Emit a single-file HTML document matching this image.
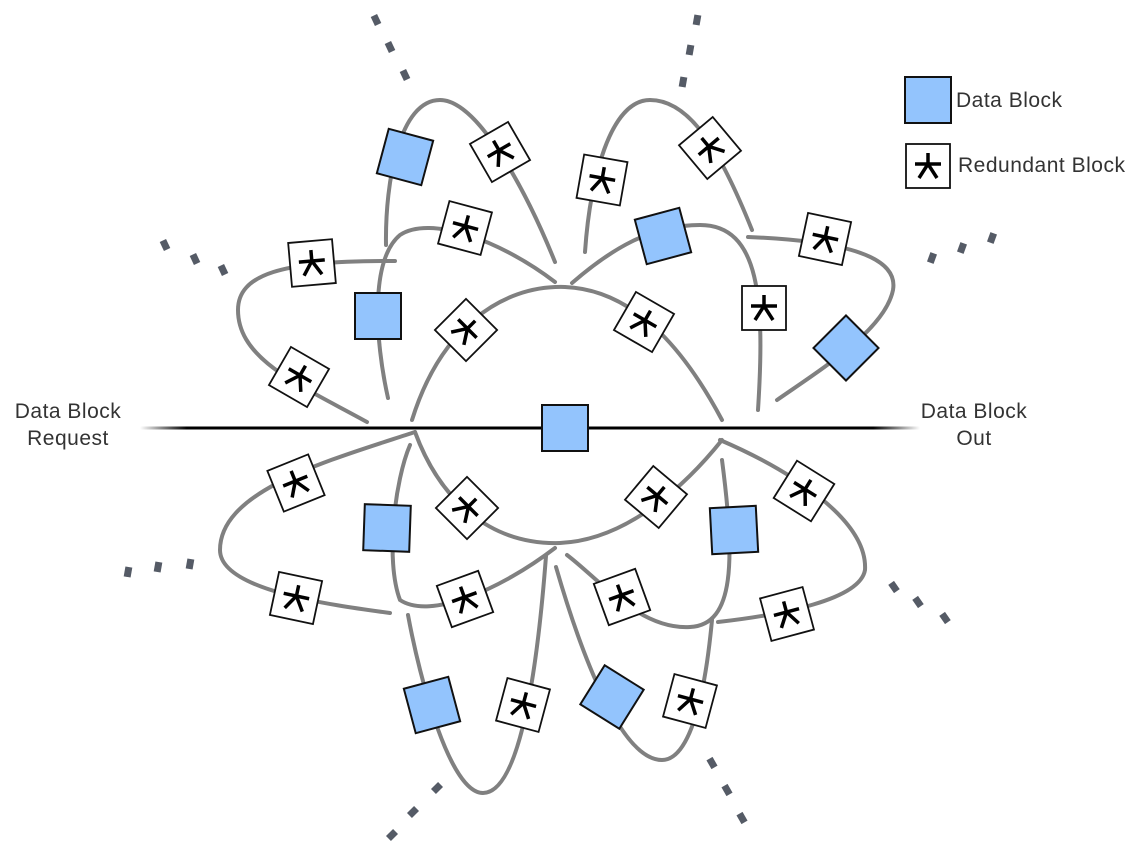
<!DOCTYPE html>
<html><head><meta charset="utf-8"><style>
html,body{margin:0;padding:0;background:#fff;width:1144px;height:864px;overflow:hidden}
svg{position:absolute;left:0;top:0}
.t{font-family:"Liberation Sans",sans-serif;font-size:21px;fill:#333;letter-spacing:0.5px}
</style></head><body>
<svg id="s" width="1144" height="864" viewBox="0 0 1144 864">
<defs><linearGradient id="lg" x1="0" x2="1"><stop offset="0" stop-color="#000" stop-opacity="0"/><stop offset="0.06" stop-color="#000"/><stop offset="0.94" stop-color="#000"/><stop offset="1" stop-color="#000" stop-opacity="0"/></linearGradient></defs>
<g fill="none" stroke="#808080" stroke-width="4" stroke-linecap="round">
<path d="M367,422 C300,385 238,360 238,310 C238,275 280,260 395,261"/>
<path d="M388,398 C375,340 370,260 400,235 C430,215 500,240 555,282"/>
<path d="M412,420 C440,330 500,285 565,287 C640,290 690,360 722,420"/>
<path d="M555,262 C530,200 480,100 440,100 C400,100 385,180 386,245"/>
<path d="M585,252 C590,180 610,100 650,100 C690,100 720,150 752,230"/>
<path d="M572,283 C610,250 650,225 700,225 C760,225 765,300 758,410"/>
<path d="M748,237 C820,240 900,250 893,290 C885,330 820,370 777,400"/>
<path d="M415,432 C330,460 220,490 220,550 C220,590 330,605 390,613"/>
<path d="M410,445 C395,480 385,560 400,600 C430,620 500,590 555,548"/>
<path d="M415,432 C440,500 490,545 560,543 C630,540 690,480 722,440"/>
<path d="M408,615 C420,680 450,793 483,793 C515,793 535,700 546,556"/>
<path d="M556,567 C580,650 620,760 662,760 C700,760 710,640 712,620"/>
<path d="M567,555 C600,580 640,630 690,627 C735,625 735,560 722,460"/>
<path d="M720,440 C790,470 868,520 865,570 C860,600 780,615 718,622"/>
</g>
<rect x="140" y="426.5" width="780" height="3" fill="url(#lg)"/>
<g id="b"></g>
<text class="t" x="68" y="418" text-anchor="middle">Data Block</text>
<text class="t" x="68" y="445" text-anchor="middle">Request</text>
<text class="t" x="974" y="418" text-anchor="middle">Data Block</text>
<text class="t" x="974" y="445" text-anchor="middle">Out</text>
<text class="t" x="956" y="107">Data Block</text>
<text class="t" x="958" y="172">Redundant Block</text>
</svg>
<script>
var g=document.getElementById('b'),h='';
function D(x,y,r){h+='<rect x="'+(x-23)+'" y="'+(y-23)+'" width="46" height="46" fill="#93c4fd" stroke="#111" stroke-width="2" transform="rotate('+r+' '+x+' '+y+')"/>';}
function R(x,y,r){h+='<g transform="translate('+x+' '+y+') rotate('+r+')"><rect x="-22" y="-22" width="44" height="44" fill="#fff" stroke="#111" stroke-width="1.8"/><g stroke="#000" stroke-width="3.5"><line x1="0" y1="-13" x2="0" y2="0"/><line x1="-13" y1="-2" x2="13" y2="-2"/><line x1="0" y1="-2" x2="-9" y2="12"/><line x1="0" y1="-2" x2="9" y2="12"/></g></g>';}
function M(x,y,r){h+='<rect x="'+(x-3.5)+'" y="'+(y-5)+'" width="7" height="10" fill="#555b66" transform="rotate('+r+' '+x+' '+y+')"/>';}
D(405,157,15);R(500,152,-30);R(465,228,15);R(312,263,-5);D(378,316,0);R(466,330,45);R(299,377,30);
R(602,180,10);R(710,148,-40);D(663,236,-15);R(825,239,12);R(764,308,0);D(846,348,45);R(644,322,30);D(565,428,0);
R(296,483,-22);D(387,528,2);R(467,508,45);R(296,598,12);R(465,599,-20);D(432,705,-15);R(523,705,15);
R(656,497,40);D(734,530,-3);R(804,491,32);R(622,597,-20);R(787,614,-15);D(612,697,32);R(690,701,15);
D(928,100,0);R(928,166,0);
[[376,20,-25],[390,47,-25],[405,75,-25],[697,20,10],[690,50,10],[683,82,10],[165,245,-25],[195,259,-25],[223,270,-25],[932,258,20],[962,248,20],[992,238,20],[128,572,10],[158,567,10],[190,564,10],[392,835,45],[413,812,45],[437,788,45],[894,587,-35],[918,602,-35],[945,618,-35],[712,763,-30],[727,790,-30],[742,818,-30]].forEach(function(a){M(a[0],a[1],a[2]);});
g.innerHTML=h;
</script>
</body></html>
